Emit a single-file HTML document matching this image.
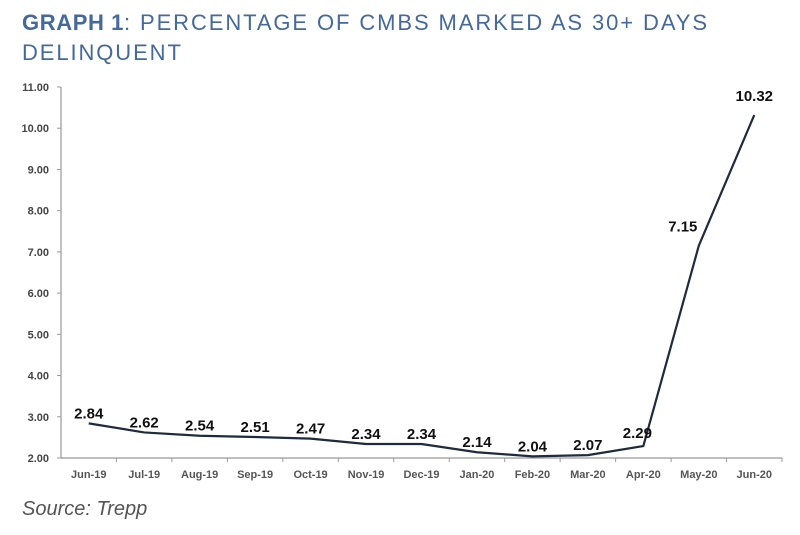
<!DOCTYPE html>
<html><head><meta charset="utf-8"><style>
body{margin:0;background:#fff;width:800px;height:535px;overflow:hidden;font-family:"Liberation Sans",sans-serif}
#title{position:absolute;left:22px;top:8px;font-size:22px;line-height:30px;color:#44699a;letter-spacing:1.9px}
#title b{letter-spacing:0.6px}
#src{position:absolute;left:22px;top:498px;font-size:20px;font-style:italic;color:#555}
svg{position:absolute;left:0;top:0}
</style></head><body>
<div id="title"><b>GRAPH 1</b>: PERCENTAGE OF CMBS MARKED AS 30+ DAYS<br>DELINQUENT</div>
<svg id="chart" width="800" height="535"></svg>
<div id="src">Source: Trepp</div>
<script>
const categories=["Jun-19","Jul-19","Aug-19","Sep-19","Oct-19","Nov-19","Dec-19","Jan-20","Feb-20","Mar-20","Apr-20","May-20","Jun-20"];
const values=[2.84,2.62,2.54,2.51,2.47,2.34,2.34,2.14,2.04,2.07,2.29,7.15,10.32];
const yTicks=[2,3,4,5,6,7,8,9,10,11];
const NS="http://www.w3.org/2000/svg",svg=document.getElementById('chart');
const x0=61,x1=782,yTop=87,yBot=458,ymin=2,ymax=11;
const bw=(x1-x0)/categories.length;
const X=i=>x0+bw*(i+0.5);
const Y=v=>yBot-(v-ymin)/(ymax-ymin)*(yBot-yTop);
function mk(t,a,p){const e=document.createElementNS(NS,t);for(const k in a)e.setAttribute(k,a[k]);(p||svg).appendChild(e);return e;}
let yl=mk('line',{x1:x0,y1:yTop,x2:x0,y2:yBot,stroke:'#999','stroke-width':1.2});


let xl=mk('line',{x1:x0,y1:yBot,x2:x1,y2:yBot,stroke:'#999','stroke-width':1.2});


yTicks.forEach(v=>{
 mk('line',{x1:x0-4,y1:Y(v),x2:x0,y2:Y(v),stroke:'#999'});
 const t=mk('text',{x:x0-12,y:Y(v)+4,'text-anchor':'end','font-size':11,'font-weight':'bold',fill:'#444'});
 t.textContent=v.toFixed(2);
 
 
});
categories.forEach((c,i)=>{
 mk('line',{x1:x0+bw*(i+1),y1:yBot,x2:x0+bw*(i+1),y2:yBot+4,stroke:'#999'});
 const t=mk('text',{x:X(i),y:yBot+20,'text-anchor':'middle','font-size':11,'font-weight':'bold',fill:'#555'});
 t.textContent=c;
 
 
});
const path=mk('path',{d:values.map((v,i)=>(i?'L':'M')+X(i)+','+Y(v)).join(''),fill:'none',stroke:'#1f2b3d','stroke-width':2.2,'stroke-linejoin':'round'});


values.forEach((v,i)=>{
 let dx=0,dy=-5;
 if(i==10){dx=-6;dy=-8;}
 if(i==11){dx=-16;dy=-14;} if(i==12){dy=-14;}
 const t=mk('text',{x:X(i)+dx,y:Y(v)+dy,'text-anchor':'middle','font-size':15,'font-weight':'bold',fill:'#111'});
 t.textContent=v.toFixed(2);
 
 
});
</script>
</body></html>
